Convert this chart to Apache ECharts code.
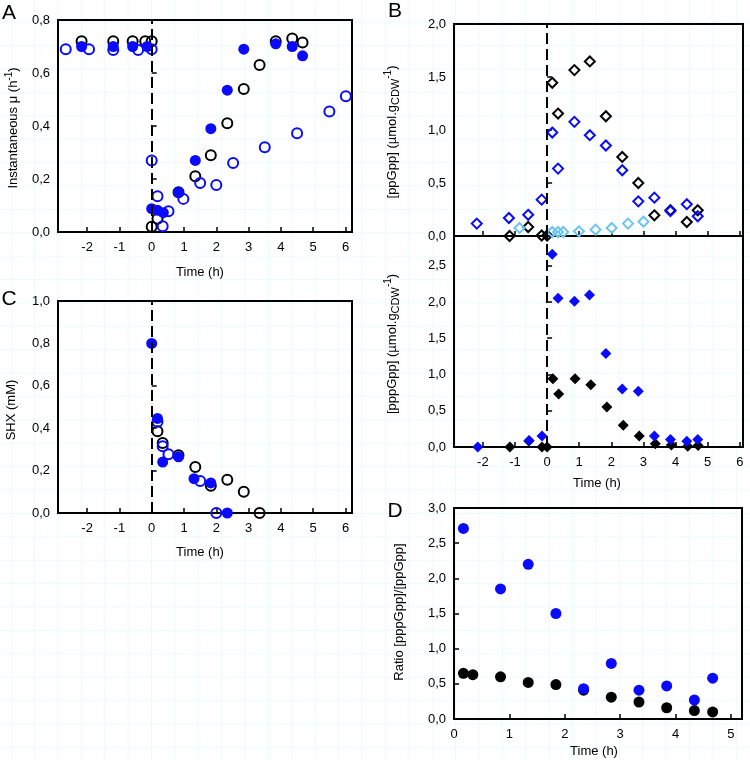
<!DOCTYPE html>
<html>
<head>
<meta charset="utf-8">
<script src="https://cdn.jsdelivr.net/npm/echarts@6/dist/echarts.min.js"></script>
<style>
html,body{margin:0;padding:0;background:#fff;}
#c{width:750px;height:760px;
background-color:#fff;
background-image:linear-gradient(to right, rgba(170,235,245,0.22) 1px, transparent 1px),linear-gradient(to bottom, rgba(170,235,245,0.22) 1px, transparent 1px);
background-size:23.4px 23.4px;background-position:10.7px 21.8px;}
</style>
</head>
<body>
<div id="c"></div>
<script>
// ---- Panel A: instantaneous growth rate ----
const A_blackOpen_t  = [-2.17,-1.19,-0.59,-0.2,0,0,0.18,0.83,1.35,1.83,2.34,2.85,3.34,3.84,4.35,4.67];
const A_blackOpen_mu = [0.72,0.72,0.72,0.72,0.72,0.02,0.05,0.15,0.21,0.29,0.41,0.54,0.63,0.72,0.73,0.715];
const A_blueFill_t   = [-2.17,-1.19,-0.59,-0.14,0,0.18,0.36,0.83,1.35,1.83,2.34,2.85,3.84,4.35,4.67];
const A_blueFill_mu  = [0.70,0.70,0.70,0.70,0.088,0.082,0.073,0.15,0.27,0.39,0.535,0.69,0.71,0.70,0.665];
const A_blueOpen_t   = [-2.66,-1.94,-1.19,-0.42,0,0,0.18,0.34,0.52,0.98,1.5,2.0,2.52,3.5,4.5,5.5,6.01];
const A_blueOpen_mu  = [0.69,0.69,0.687,0.687,0.69,0.27,0.135,0.022,0.078,0.125,0.185,0.177,0.26,0.32,0.373,0.455,0.512];

// ---- Panel B top: ppGpp ----
const B_ppBlack_t = [-1.17,-0.59,-0.17,0,0.16,0.34,0.85,1.33,1.83,2.34,2.84,3.34,3.84,4.35,4.69];
const B_ppBlack_v = [0,0.085,0.005,0.005,1.445,1.155,1.565,1.647,1.13,0.746,0.50,0.195,0.243,0.132,0.243];
const B_ppBlue_t  = [-2.19,-1.19,-0.59,-0.17,0.16,0.34,0.85,1.33,1.83,2.34,2.84,3.34,3.84,4.35,4.69];
const B_ppBlue_v  = [0.117,0.17,0.20,0.343,0.976,0.636,1.077,0.951,0.854,0.62,0.327,0.362,0.236,0.30,0.186];
const B_ppLight_t = [-0.86,0.16,0.34,0.5,0.99,1.51,2.01,2.52,3.0];
const B_ppLight_v = [0.076,0.038,0.038,0.038,0.044,0.06,0.076,0.117,0.135];

// ---- Panel B bottom: pppGpp ----
const B_pppBlue_t  = [-2.16,-0.56,-0.16,0.16,0.34,0.85,1.32,1.83,2.34,2.84,3.34,3.84,4.35,4.69];
const B_pppBlue_v  = [0,0.09,0.15,2.66,2.05,2.01,2.095,1.29,0.80,0.77,0.15,0.105,0.08,0.105];
const B_pppBlack_t = [-1.16,-0.57,-0.16,0,0.18,0.36,0.87,1.36,1.86,2.37,2.87,3.37,3.87,4.38,4.7];
const B_pppBlack_v = [0,0.083,0,0,0.94,0.73,0.94,0.86,0.55,0.30,0.15,0.045,0.028,0.01,0.02];

// ---- Panel C: SHX ----
const C_blueFill_t  = [0,0.18,0.34,0.83,1.31,1.83,2.34];
const C_blueFill_v  = [0.80,0.446,0.24,0.265,0.162,0.142,0];
const C_blackOpen_t = [0.18,0.34,0.83,1.35,1.83,2.34,2.85,3.34];
const C_blackOpen_v = [0.386,0.33,0.272,0.217,0.128,0.157,0.10,0];
const C_blueOpen_t  = [0.18,0.34,0.52,1.5,2.0];
const C_blueOpen_v  = [0.43,0.315,0.277,0.151,0];

// ---- Panel D: ratio ----
const D_black_t = [0.17,0.34,0.84,1.34,1.84,2.34,2.84,3.34,3.84,4.34,4.67];
const D_black_v = [0.65,0.63,0.60,0.52,0.49,0.41,0.31,0.24,0.16,0.12,0.10];
const D_blue_t  = [0.17,0.84,1.34,1.84,2.34,2.84,3.34,3.84,4.34,4.67];
const D_blue_v  = [2.71,1.85,2.20,1.50,0.43,0.79,0.41,0.47,0.27,0.58];

// tick labels
const timeTicksABC = [-2,-1,0,1,2,3,4,5,6];
const timeTicksD = [0,1,2,3,4,5];
const yTicksA = [0,0.2,0.4,0.6,0.8];
const yTicksBtop = [0,0.5,1,1.5,2];
const yTicksBbot = [0,0.5,1,1.5,2,2.5];
const yTicksC = [0,0.2,0.4,0.6,0.8,1.0];
const yTicksD = [0,0.5,1,1.5,2,2.5,3];

const BLUE = '#0a0aff', BLACK = '#000', LIGHT = '#6cc4f2';
const FONT = 'Liberation Sans, Arial, sans-serif';
const zip = (a,b) => a.map((v,i)=>[v,b[i]]);
const comma = v => v.toFixed(1).replace('.', ',');

function xAx(gi, min, max, ticks, showLabels){
  return {type:'value', gridIndex:gi, min, max, splitLine:{show:false},
    axisLine:{show:false},
    axisTick:{show:true, inside:true, length:5, customValues:ticks, lineStyle:{color:'#000',width:1.5}},
    axisLabel:{show:showLabels, customValues:ticks, color:'#000', fontSize:13, fontFamily:FONT, margin:9, formatter:v=>String(v)}};
}
function yAx(gi, min, max, ticks){
  return {type:'value', gridIndex:gi, min, max, splitLine:{show:false},
    axisLine:{show:false},
    axisTick:{show:true, inside:true, length:5, customValues:ticks, lineStyle:{color:'#000',width:1.5}},
    axisLabel:{customValues:ticks, color:'#000', fontSize:13, fontFamily:FONT, margin:8, formatter:comma}};
}
function sc(gi, data, symbol, color, filled, size){
  return {type:'scatter', xAxisIndex:gi, yAxisIndex:gi, data, symbol, symbolSize:size||10,
    itemStyle: filled ? {color:color, borderWidth:0, opacity:1} : {color:'rgba(0,0,0,0)', borderColor:color, borderWidth:2, opacity:1},
    emphasis:{disabled:true}};
}
const dash = {silent:true, symbol:'none', label:{show:false}, animation:false,
  lineStyle:{color:'#000', type:[11,5], width:2, opacity:1}, data:[{xAxis:0}]};

const gridStyle = {show:true, borderColor:'#000', borderWidth:2, backgroundColor:'rgba(0,0,0,0)'};

function ttl(x, y, text, rot, size){
  return {type:'text', x, y, rotation: rot ? Math.PI/2 : 0, silent:true,
    style:{text, fill:'#000', font: (size||13)+'px '+FONT, align:'center', verticalAlign:'middle',
      rich:{
        sup:{fontSize:10, fontFamily:FONT, fill:'#000', verticalAlign:'top', lineHeight:10},
        sub:{fontSize:11, fontFamily:FONT, fill:'#000', verticalAlign:'bottom', lineHeight:11},
        n:{fontSize:13, fontFamily:FONT, fill:'#000', lineHeight:18}
      }}};
}

const chart = echarts.init(document.getElementById('c'), null, {renderer:'canvas'});
const aS = sc(0, zip(A_blackOpen_t, A_blackOpen_mu), 'circle', BLACK, false, 10);
aS.markLine = dash;
const bS = sc(1, zip(B_ppBlack_t, B_ppBlack_v), 'diamond', BLACK, false, 10);
bS.markLine = dash;
const bS2 = sc(2, zip(B_pppBlack_t, B_pppBlack_v), 'diamond', BLACK, true, 11);
bS2.markLine = dash;
const cS = sc(3, zip(C_blackOpen_t, C_blackOpen_v), 'circle', BLACK, false, 10);
cS.markLine = dash;

chart.setOption({
  animation:false,
  textStyle:{fontFamily:FONT},
  grid:[
    Object.assign({left:58, top:20, width:294, height:212}, gridStyle),
    Object.assign({left:454, top:24, width:289, height:212}, gridStyle),
    Object.assign({left:454, top:236, width:289, height:211}, gridStyle),
    Object.assign({left:58, top:301, width:294, height:212}, gridStyle),
    Object.assign({left:454, top:508, width:288, height:211}, gridStyle)
  ],
  xAxis:[
    xAx(0, -2.9, 6.2, timeTicksABC, true),
    xAx(1, -2.9, 6.1, timeTicksABC, false),
    xAx(2, -2.9, 6.1, timeTicksABC, true),
    xAx(3, -2.9, 6.2, timeTicksABC, true),
    xAx(4, 0, 5.2, timeTicksD, true)
  ],
  yAxis:[
    yAx(0, 0, 0.8, yTicksA),
    yAx(1, 0, 2.0, yTicksBtop),
    yAx(2, 0, 2.91, yTicksBbot),
    yAx(3, 0, 1.0, yTicksC),
    yAx(4, 0, 3.0, yTicksD)
  ],
  series:[
    aS,
    sc(0, zip(A_blueOpen_t, A_blueOpen_mu), 'circle', BLUE, false, 10),
    sc(0, zip(A_blueFill_t, A_blueFill_mu), 'circle', BLUE, true, 11),
    bS,
    sc(1, zip(B_ppLight_t, B_ppLight_v), 'diamond', LIGHT, false, 10),
    sc(1, zip(B_ppBlue_t, B_ppBlue_v), 'diamond', BLUE, false, 10),
    bS2,
    sc(2, zip(B_pppBlue_t, B_pppBlue_v), 'diamond', BLUE, true, 11),
    cS,
    sc(3, zip(C_blueOpen_t, C_blueOpen_v), 'circle', BLUE, false, 10),
    sc(3, zip(C_blueFill_t, C_blueFill_v), 'circle', BLUE, true, 11),
    sc(4, zip(D_black_t, D_black_v), 'circle', BLACK, true, 11),
    sc(4, zip(D_blue_t, D_blue_v), 'circle', BLUE, true, 11)
  ],
  graphic:[
    ttl(9, 13, 'A', false, 21),
    ttl(395, 11, 'B', false, 21),
    ttl(9, 299, 'C', false, 21),
    ttl(395, 511, 'D', false, 21),
    ttl(13, 128, '{n|Instantaneous μ (h}{sup|-1}{n|)}', true),
    ttl(11, 410, 'SHX (mM)', true),
    ttl(392, 132, '{n|[ppGpp] (µmol.g}{sub|CDW}{sup|-1}{n|)}', true),
    ttl(392, 344, '{n|[pppGpp] (µmol.g}{sub|CDW}{sup|-1}{n|)}', true),
    ttl(399, 612, 'Ratio [pppGpp]/[ppGpp]', true),
    ttl(200, 272, 'Time (h)', false),
    ttl(200, 552, 'Time (h)', false),
    ttl(597, 483, 'Time (h)', false),
    ttl(594, 751, 'Time (h)', false)
  ]
});
</script>
</body>
</html>
